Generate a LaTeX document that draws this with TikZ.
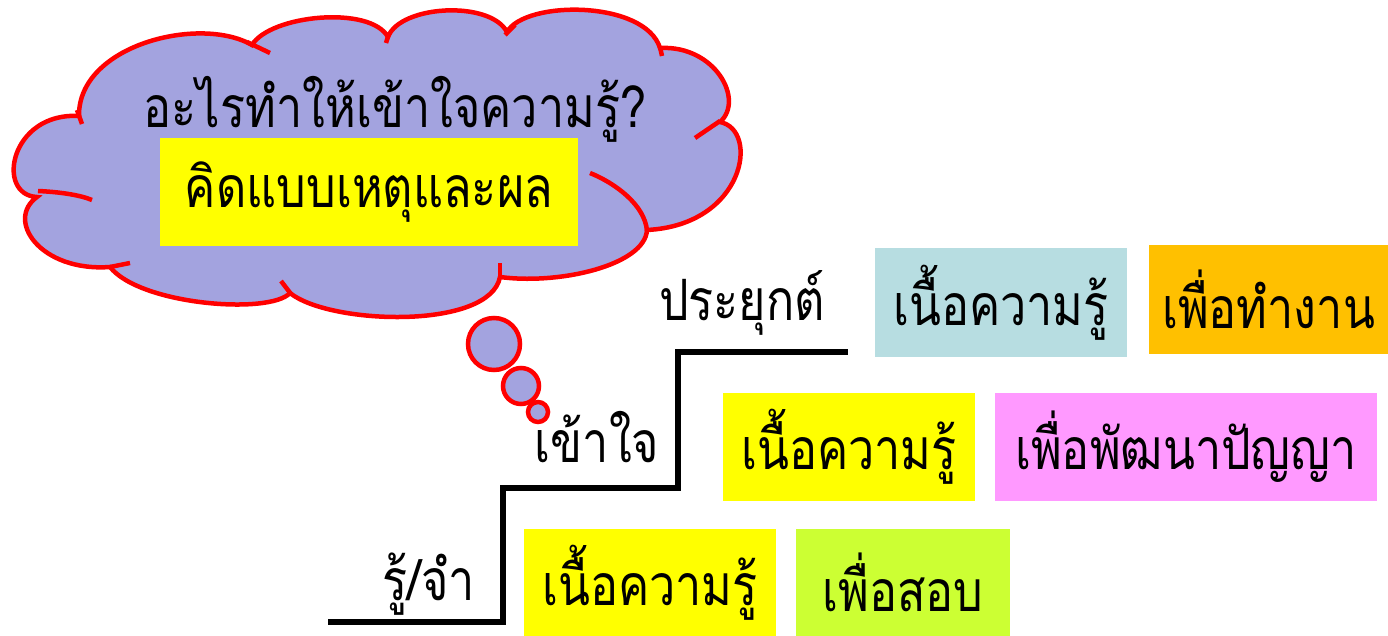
\documentclass[tikz,border=0pt]{standalone}
\usepackage{fontspec}
\newfontfamily\thaifont[Script=Thai,FakeStretch=0.82]{Loma}

\definecolor{cloudfill}{HTML}{A3A3DF}
\definecolor{cloudline}{HTML}{FF0000}
\definecolor{boxblue}{HTML}{B7DDE1}
\definecolor{boxorange}{HTML}{FFC000}
\definecolor{boxyellow}{HTML}{FFFF00}
\definecolor{boxpink}{HTML}{FF99FF}
\definecolor{boxlime}{HTML}{CCFF33}

\tikzset{
    thaitext/.style={font=\thaifont\fontsize{57}{68}\selectfont},
    infobox/.style={thaitext, inner sep=0pt, minimum height=108pt},
    bubble/.style={draw=cloudline, fill=cloudfill, line width=4.5pt},
    innerarc/.style={draw=cloudline, line width=4.5pt},
    stairline/.style={line width=6pt},
}

\begin{document}
\begin{tikzpicture}[x=1pt,y=-1pt]
    \useasboundingbox (0,0) rectangle (1388,636);

    % thought cloud
    \filldraw[bubble] (37,197)
        .. controls (-5,195) and (10,112) .. (79,116)
        .. controls (78,45) and (200,15) .. (252,45)
        .. controls (270,15) and (370,5) .. (388,37)
        .. controls (400,5) and (490,0) .. (507,32)
        .. controls (525,0) and (645,0) .. (660,48)
        .. controls (715,45) and (745,100) .. (720,122)
        .. controls (760,130) and (745,225) .. (647,230)
        .. controls (645,265) and (560,285) .. (500,277)
        .. controls (490,330) and (330,325) .. (290,293)
        .. controls (270,315) and (140,305) .. (110,267)
        .. controls (40,272) and (5,220) .. (37,197) -- cycle;
    \draw[innerarc] (38,191) .. controls (60,192) and (80,195) .. (92,200);
    \draw[innerarc] (77,110) -- (82,124);
    \draw[innerarc] (247,42) -- (270,53);
    \draw[innerarc] (389,33) -- (386,43);
    \draw[innerarc] (505,35) -- (515,25);
    \draw[innerarc] (660,47) -- (662,56);
    \draw[innerarc] (695,138) -- (720,121);
    \draw[innerarc] (590,173) .. controls (615,183) and (645,205) .. (647,231);
    \draw[innerarc] (500,263) -- (500,277);
    \draw[innerarc] (281,281) -- (291,294);
    \draw[innerarc] (110,267) -- (130,263);

    \node[thaitext, anchor=base] (question) at (395,128) {อะไรทำให้เข้าใจความรู้?};
    \node[infobox, fill=boxyellow, minimum width=418pt] (answer) at (369,192.5) {คิดแบบเหตุและผล};
    \node[bubble, circle, minimum size=52pt, inner sep=0pt] (puffa) at (494,344) {};
    \node[bubble, circle, minimum size=36pt, inner sep=0pt] (puffb) at (521,386) {};
    \node[bubble, circle, minimum size=20pt, inner sep=0pt] (puffc) at (538,412) {};

    % stairs
    \draw[stairline] (328,622) -| (503,488) -| (678,352) -- (848,352);
    \node[thaitext, anchor=base] (remember) at (429,600) {รู้/จำ};
    \node[thaitext, anchor=base] (understand) at (597,462) {เข้าใจ};
    \node[thaitext, anchor=base] (apply) at (742,320) {ประยุกต์};

    % content boxes
    \node[infobox, fill=boxyellow, minimum width=252pt] (know1) at (650,582.5) {เนื้อความรู้};
    \node[infobox, fill=boxlime, minimum width=214pt] (goal1) at (903,582.5) {เพื่อสอบ};
    \node[infobox, fill=boxyellow, minimum width=252pt] (know2) at (849,446.5) {เนื้อความรู้};
    \node[infobox, fill=boxpink, minimum width=382pt] (goal2) at (1186,446.5) {เพื่อพัฒนาปัญญา};
    \node[infobox, fill=boxblue, minimum width=252pt] (know3) at (1001,302.5) {เนื้อความรู้};
    \node[infobox, fill=boxorange, minimum width=239pt] (goal3) at (1268.5,299.5) {เพื่อทำงาน};
\end{tikzpicture}
\end{document}
